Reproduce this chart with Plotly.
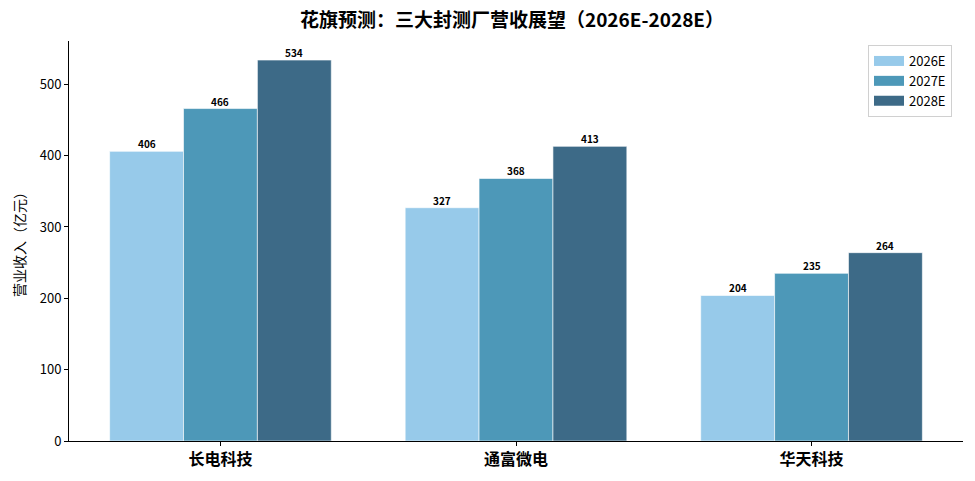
import plotly.graph_objects as go

categories = ["长电科技", "通富微电", "华天科技"]
series_names = ["2026E", "2027E", "2028E"]
values_2026 = [406, 327, 204]
values_2027 = [466, 368, 235]
values_2028 = [534, 413, 264]
colors = ["#97CAEA", "#4D98B8", "#3D6A87"]

FONT = "Noto Sans CJK SC"
W, H = 975, 481
BAR_W = 0.25

fig = go.Figure()
series = [values_2026, values_2027, values_2028]
for k, (name, vals, col) in enumerate(zip(series_names, series, colors)):
    fig.add_trace(go.Bar(
        x=categories, y=vals, name=name, showlegend=False,
        marker=dict(color=col, line=dict(color="white", width=0.6)),
    ))
    off = (k - 1) * BAR_W
    for i, v in enumerate(vals):
        fig.add_annotation(
            x=i + off, y=v, xref="x", yref="y", text=f"<b>{v}</b>",
            showarrow=False, yanchor="bottom", xanchor="center", yshift=-2,
            font=dict(family=FONT, size=10, color="black"),
        )
# legend entries with wide rectangular swatches
for name, col in zip(series_names, colors):
    fig.add_trace(go.Scatter(
        x=[None], y=[None], mode="lines", name=name,
        line=dict(color=col, width=10),
    ))

fig.update_layout(
    width=W, height=H,
    barmode="group", bargap=0.25, bargroupgap=0,
    plot_bgcolor="white", paper_bgcolor="white",
    font=dict(family=FONT, color="black"),
    margin=dict(l=69, r=12, t=41, b=40, autoexpand=False),
    title=dict(text="<b>花旗预测：三大封测厂营收展望（2026E-2028E）</b>",
               x=512 / W, xanchor="center", y=1 - 20 / H, yanchor="middle",
               font=dict(family=FONT, size=19, color="black")),
    legend=dict(x=1 - 12 / W, y=1 - 4 / 400, xanchor="right", yanchor="top",
                xref="paper", yref="paper",
                bordercolor="#d0d0d0", borderwidth=1, bgcolor="white",
                font=dict(family=FONT, size=13, color="black"),
                tracegroupgap=0, itemwidth=30),
    showlegend=True,
)
fig.update_xaxes(
    showline=True, linecolor="black", linewidth=1,
    ticks="outside", ticklen=4, tickcolor="black",
    tickfont=dict(family=FONT, size=16, color="black", weight="bold"),
    range=[-0.5125, 2.5125], showgrid=False,
)
fig.update_yaxes(
    showline=True, linecolor="black", linewidth=1,
    ticks="outside", ticklen=4, tickcolor="black",
    tickfont=dict(family=FONT, size=13, color="black"),
    range=[0, 560.7], dtick=100, showgrid=False, zeroline=False,
    title=dict(text="营业收入（亿元）", font=dict(family=FONT, size=14, color="black"), standoff=10),
)

fig.write_html("out.html", config={"displayModeBar": False},
               post_script="document.body.style.margin='0';")
